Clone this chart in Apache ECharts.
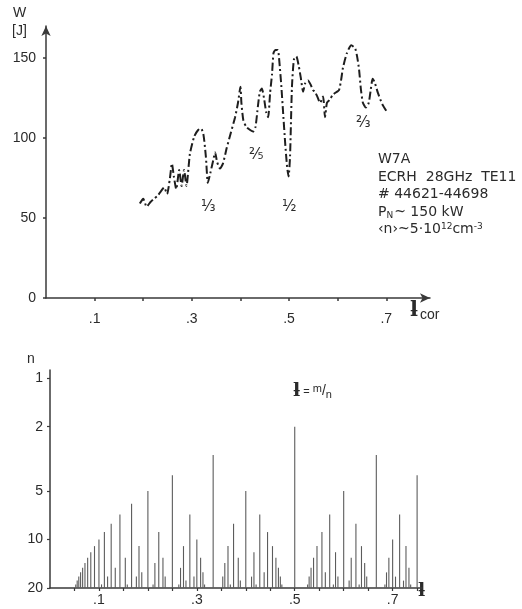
<!DOCTYPE html>
<html>
<head>
<meta charset="utf-8">
<script src="https://cdn.jsdelivr.net/npm/echarts@6/dist/echarts.min.js"></script>
<style>
  html, body { margin: 0; padding: 0; background: #fff; }
  #chart { width: 522px; height: 609px; }
</style>
</head>
<body>
<div id="chart"></div>
<script>
// Stored energy W [J] versus rotational transform t_cor (W7A, ECRH scan)
const tCor = [
  0.193, 0.200, 0.207, 0.215, 0.222, 0.230, 0.237, 0.243, 0.249, 0.255,
  0.259, 0.263, 0.268, 0.274, 0.279, 0.284, 0.289, 0.296, 0.305, 0.313,
  0.319, 0.324, 0.329, 0.333, 0.338, 0.344, 0.348, 0.352, 0.358, 0.364,
  0.372, 0.380, 0.389, 0.395, 0.400, 0.402, 0.406, 0.412, 0.420, 0.426,
  0.431, 0.436, 0.440, 0.444, 0.449, 0.453, 0.457, 0.461, 0.465, 0.468,
  0.472, 0.477, 0.480, 0.484, 0.488, 0.492, 0.496, 0.499, 0.502, 0.506,
  0.510, 0.515, 0.520, 0.524, 0.529, 0.533, 0.539, 0.545, 0.549, 0.553,
  0.558, 0.564, 0.570, 0.574, 0.578, 0.584, 0.590, 0.599, 0.603, 0.607,
  0.611, 0.619, 0.628, 0.636, 0.640, 0.644, 0.648, 0.652, 0.658, 0.664,
  0.668, 0.672, 0.676, 0.683, 0.692, 0.700
];
const energyJ = [
  59, 62, 57, 60, 62, 64, 67, 69, 65, 75,
  84, 76, 68, 80, 70, 80, 70, 90, 101, 105,
  106, 102, 88, 72, 78, 86, 91, 85, 81, 84,
  94, 103, 113, 122, 132, 122, 111, 107, 105, 104,
  107, 120, 129, 131, 124, 116, 113, 128, 140, 153,
  155, 155, 148, 133, 115, 97, 82, 76, 88, 132,
  149, 151, 145, 138, 129, 134, 136, 133, 130, 129,
  126, 122, 126, 113, 122, 124, 127, 129, 130, 136,
  144, 153, 158, 156, 151, 143, 130, 122, 119, 122,
  130, 137, 135, 128, 121, 117
];

// Rational values t = m/n: for each denominator n, the numerators m drawn
const denominators = [2, 3, 4, 5, 6, 7, 8, 9, 10, 11, 12, 13, 14, 15, 16, 17, 18, 19, 20];
const numerators = [
  [1],
  [1, 2],
  [1, 3],
  [1, 2, 3],
  [1],
  [1, 2, 3, 4, 5],
  [1, 3, 5],
  [1, 2, 4, 5],
  [1, 3, 7],
  [1, 2, 3, 4, 5, 6, 7, 8],
  [1, 5, 7],
  [1, 2, 3, 4, 5, 6, 7, 8, 9],
  [1, 3, 5, 9],
  [1, 2, 4, 7, 8, 11],
  [1, 3, 5, 7, 9, 11],
  [1, 2, 3, 4, 5, 6, 7, 8, 9, 10, 11, 12],
  [1, 5, 7, 11, 13],
  [1, 2, 3, 4, 5, 6, 7, 8, 9, 10, 11, 12, 13, 14],
  [1, 3, 7, 9, 11, 13]
];

// Axis ticks and labels
const topYLabels = [0, 50, 100, 150];
const topXTicks = [0.1, 0.2, 0.3, 0.4, 0.5, 0.6, 0.7];
const xLabelValues = [0.1, 0.3, 0.5, 0.7];
const bottomXTicks = [0.05, 0.1, 0.15, 0.2, 0.25, 0.3, 0.35, 0.4, 0.45, 0.5, 0.55, 0.6, 0.65, 0.7, 0.75];
const nLabels = [1, 2, 5, 10, 20];
const N_BASE = 20;

// Resonance labels on the energy curve
const resonanceNames = ['⅓', '⅖', '½', '⅔'];

const energyData = tCor.map((t, i) => [t, energyJ[i]]);
const rationalData = [];
denominators.forEach((n, k) => {
  numerators[k].forEach(m => rationalData.push([m / n, n]));
});

const FONT = '"Liberation Sans", Arial, sans-serif';
const WIDE = '"DejaVu Sans", sans-serif';
const SYM = '"DejaVu Serif", serif';
const INK = '#2b2b2b';
const AXIS = '#3a3a3a';

const xFmt = v => xLabelValues.some(x => Math.abs(x - v) < 1e-6) ? ('.' + Math.round(v * 10)) : '';

const chart = echarts.init(document.getElementById('chart'), null, { renderer: 'canvas' });

chart.setOption({
  backgroundColor: '#ffffff',
  animation: false,
  textStyle: { fontFamily: FONT, color: INK },
  grid: [
    { left: 46, top: 26, width: 384, height: 272 },
    { left: 50, top: 370, width: 372, height: 218 }
  ],
  xAxis: [
    {
      gridIndex: 0, type: 'value', min: 0, max: 0.79,
      axisLine: { show: true, symbol: ['none', 'arrow'], symbolSize: [7, 10], lineStyle: { color: AXIS, width: 1.5 } },
      axisTick: { show: true, length: 3, customValues: topXTicks, lineStyle: { color: AXIS, width: 1.5 } },
      axisLabel: { customValues: xLabelValues, formatter: xFmt, fontSize: 14, color: INK, margin: 14, fontFamily: FONT },
      splitLine: { show: false }
    },
    {
      gridIndex: 1, type: 'value', min: 0, max: 0.76,
      axisLine: { show: true, lineStyle: { color: AXIS, width: 1.5 } },
      axisTick: { show: true, length: 3, customValues: bottomXTicks, lineStyle: { color: AXIS, width: 1.2 } },
      axisLabel: { customValues: xLabelValues, formatter: xFmt, fontSize: 14, color: INK, margin: 5, fontFamily: FONT },
      splitLine: { show: false }
    }
  ],
  yAxis: [
    {
      gridIndex: 0, type: 'value', min: 0, max: 170,
      axisLine: { show: true, symbol: ['none', 'arrow'], symbolSize: [7, 10], lineStyle: { color: AXIS, width: 1.5 } },
      axisTick: { show: true, length: 3, customValues: topYLabels, lineStyle: { color: AXIS, width: 1.5 } },
      axisLabel: { customValues: topYLabels, fontSize: 14, color: INK, margin: 10, fontFamily: FONT },
      splitLine: { show: false }
    },
    {
      gridIndex: 1, type: 'log', logBase: 10, min: 0.89, max: N_BASE, inverse: true,
      axisLine: { show: true, lineStyle: { color: AXIS, width: 1.5 } },
      axisTick: { show: true, length: 3, customValues: nLabels, lineStyle: { color: AXIS, width: 1.2 } },
      axisLabel: { customValues: nLabels, fontSize: 14, color: INK, margin: 7, fontFamily: FONT },
      splitLine: { show: false }, minorTick: { show: false }
    }
  ],
  series: [
    {
      type: 'line', xAxisIndex: 0, yAxisIndex: 0,
      data: energyData, showSymbol: false, smooth: 0.2,
      lineStyle: { color: '#1e1e1e', width: 2, type: [8, 3, 2, 3] }
    },
    {
      type: 'custom', xAxisIndex: 1, yAxisIndex: 1,
      data: rationalData,
      renderItem: function (params, api) {
        const t = api.value(0);
        const top = api.coord([t, api.value(1)]);
        const base = api.coord([t, N_BASE]);
        return {
          type: 'line',
          shape: { x1: top[0], y1: top[1], x2: base[0], y2: base[1] },
          style: { stroke: '#5c5c5c', lineWidth: 1.1 }
        };
      }
    }
  ],
  graphic: [
    // upper panel axis names
    { type: 'text', left: 13, top: 6, style: { text: 'W', fill: INK, font: '14px ' + FONT } },
    { type: 'text', left: 12, top: 24, style: { text: '[J]', fill: INK, font: '14px ' + FONT } },
    {
      type: 'text', left: 410, top: 300,
      style: {
        text: '{t|ƚ}{s|cor}', fill: INK,
        rich: {
          t: { fontSize: 21, fontFamily: SYM, fontWeight: 'bold', fill: INK },
          s: { fontSize: 14, fontFamily: FONT, fill: INK, padding: [10, 0, 0, 2] }
        }
      }
    },
    // resonance labels
    { type: 'text', left: 201, top: 200, style: { text: resonanceNames[0], fill: INK, font: '15px ' + WIDE } },
    { type: 'text', left: 249, top: 148, style: { text: resonanceNames[1], fill: INK, font: '15px ' + WIDE } },
    { type: 'text', left: 282, top: 200, style: { text: resonanceNames[2], fill: INK, font: '15px ' + WIDE } },
    { type: 'text', left: 356, top: 116, style: { text: resonanceNames[3], fill: INK, font: '15px ' + WIDE } },
    // experiment parameters
    {
      type: 'text', left: 378, top: 151,
      style: {
        text: '{p|W7A}\n{p|ECRH  28GHz  TE11}\n{p|# 44621-44698}\n{p|P}{sub|N}{p|~ 150 kW}\n{p|‹n›~5·10}{sup|12}{p|cm}{sup|-3}',
        fill: INK, font: '14px ' + WIDE, lineHeight: 17.5,
        rich: {
          p: { fontSize: 14, fontFamily: WIDE, fill: INK, lineHeight: 17.5 },
          sub: { fontSize: 9, fontFamily: WIDE, fill: INK, padding: [7, 1, 0, 0] },
          sup: { fontSize: 9, fontFamily: WIDE, fill: INK, padding: [0, 0, 7, 0] }
        }
      }
    },
    // lower panel axis names and relation
    { type: 'text', left: 27, top: 352, style: { text: 'n', fill: INK, font: '14px ' + FONT } },
    {
      type: 'text', left: 293, top: 382,
      style: {
        text: '{t|ƚ}{e| = }{m|m}{sl|/}{n|n}', fill: INK,
        rich: {
          t: { fontSize: 19, fontFamily: SYM, fontWeight: 'bold', fill: INK },
          e: { fontSize: 11, fontFamily: FONT, fill: INK },
          m: { fontSize: 11, fontFamily: FONT, fill: INK, padding: [0, 0, 6, 0] },
          sl: { fontSize: 14, fontFamily: FONT, fill: INK },
          n: { fontSize: 11, fontFamily: FONT, fill: INK, padding: [6, 0, 0, 0] }
        }
      }
    },
    { type: 'text', left: 418, top: 582, style: { text: 'ƚ', fill: INK, font: 'bold 19px ' + SYM } }
  ]
});
</script>
</body>
</html>
